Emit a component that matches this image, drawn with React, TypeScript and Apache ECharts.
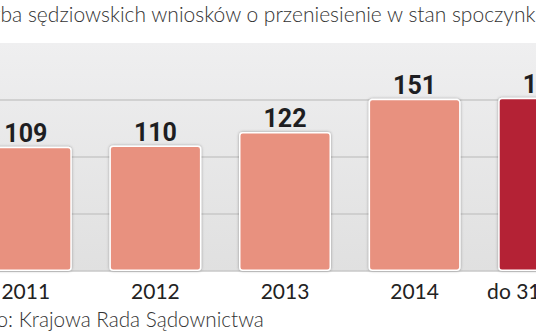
import React, { useEffect, useRef } from "react";
import * as echarts from "echarts";

const categories = ["2011", "2012", "2013", "2014", "do 31 marca"];
const values = [109, 110, 122, 151, 152];
const barColors = ["#E8917F", "#E8917F", "#E8917F", "#E8917F", "#B42436"];
const yTicks = [0, 50, 100, 150, 200];
const titleText = "Liczba sędziowskich wniosków o przeniesienie w stan spoczynku";
const sourceText = "Źródło: Krajowa Rada Sądownictwa";

const OFFSET = 39;

export default function App() {
  const ref = useRef<HTMLDivElement>(null);
  useEffect(() => {
    if (!ref.current) return;
    const chart = echarts.init(ref.current, undefined, { renderer: "svg" });
    chart.setOption({
      animation: false,
      backgroundColor: "#ffffff",
      grid: {
        left: 0,
        right: 0,
        top: 43,
        bottom: 61,
        show: true,
        borderWidth: 0,
        backgroundColor: {
          type: "linear",
          x: 0,
          y: 0,
          x2: 0,
          y2: 1,
          colorStops: [
            { offset: 0, color: "#EFEFF0" },
            { offset: 1, color: "#E0E0E0" },
          ],
        },
      },
      xAxis: {
        type: "category",
        data: categories,
        axisLine: { show: false },
        axisTick: { show: false },
        axisLabel: {
          interval: 0,
          color: "#222",
          fontSize: 21,
          fontFamily: "Lato, sans-serif",
          margin: 9,
        },
      },
      yAxis: {
        type: "value",
        min: yTicks[0],
        max: yTicks[yTicks.length - 1],
        interval: 50,
        axisLabel: { show: false },
        axisLine: { show: false },
        axisTick: { show: false },
        splitLine: {
          show: true,
          lineStyle: {
            color: ["#C8C8C8", "#C8C8C8", "#C8C8C8", "#C8C8C8", "rgba(0,0,0,0)"],
            width: 1.5,
          },
        },
      },
      series: [
        {
          type: "bar",
          data: values.map((v, i) => ({ value: v, itemStyle: { color: barColors[i] } })),
          barWidth: 92,
          itemStyle: {
            borderColor: "#ffffff",
            borderWidth: 1.5,
            borderRadius: 3,
            shadowColor: "rgba(0,0,0,0.35)",
            shadowBlur: 3,
          },
          label: {
            show: true,
            position: "top",
            distance: 1,
            color: "#1e1e22",
            fontSize: 25,
            fontWeight: "bold",
            fontFamily: "'Liberation Sans Narrow', Roboto, sans-serif",
          },
        },
      ],
      graphic: [
        {
          type: "text",
          left: OFFSET - 34,
          top: 3,
          style: {
            text: titleText,
            fontSize: 21,
            fontFamily: "Lato, sans-serif",
            fontWeight: 300,
            fill: "#333",
          },
        },
        {
          type: "text",
          left: OFFSET - 51,
          top: 308,
          style: {
            text: sourceText,
            fontSize: 20.7,
            fontFamily: "Lato, sans-serif",
            fontWeight: 300,
            fill: "#333",
          },
        },
      ],
    });
    return () => chart.dispose();
  }, []);
  return (
    <div style={{ position: "fixed", left: 0, top: 0, width: 536, height: 332, overflow: "hidden", background: "#fff" }}>
      <div ref={ref} style={{ position: "absolute", left: -OFFSET, top: 0, width: 648, height: 332 }} />
    </div>
  );
}
